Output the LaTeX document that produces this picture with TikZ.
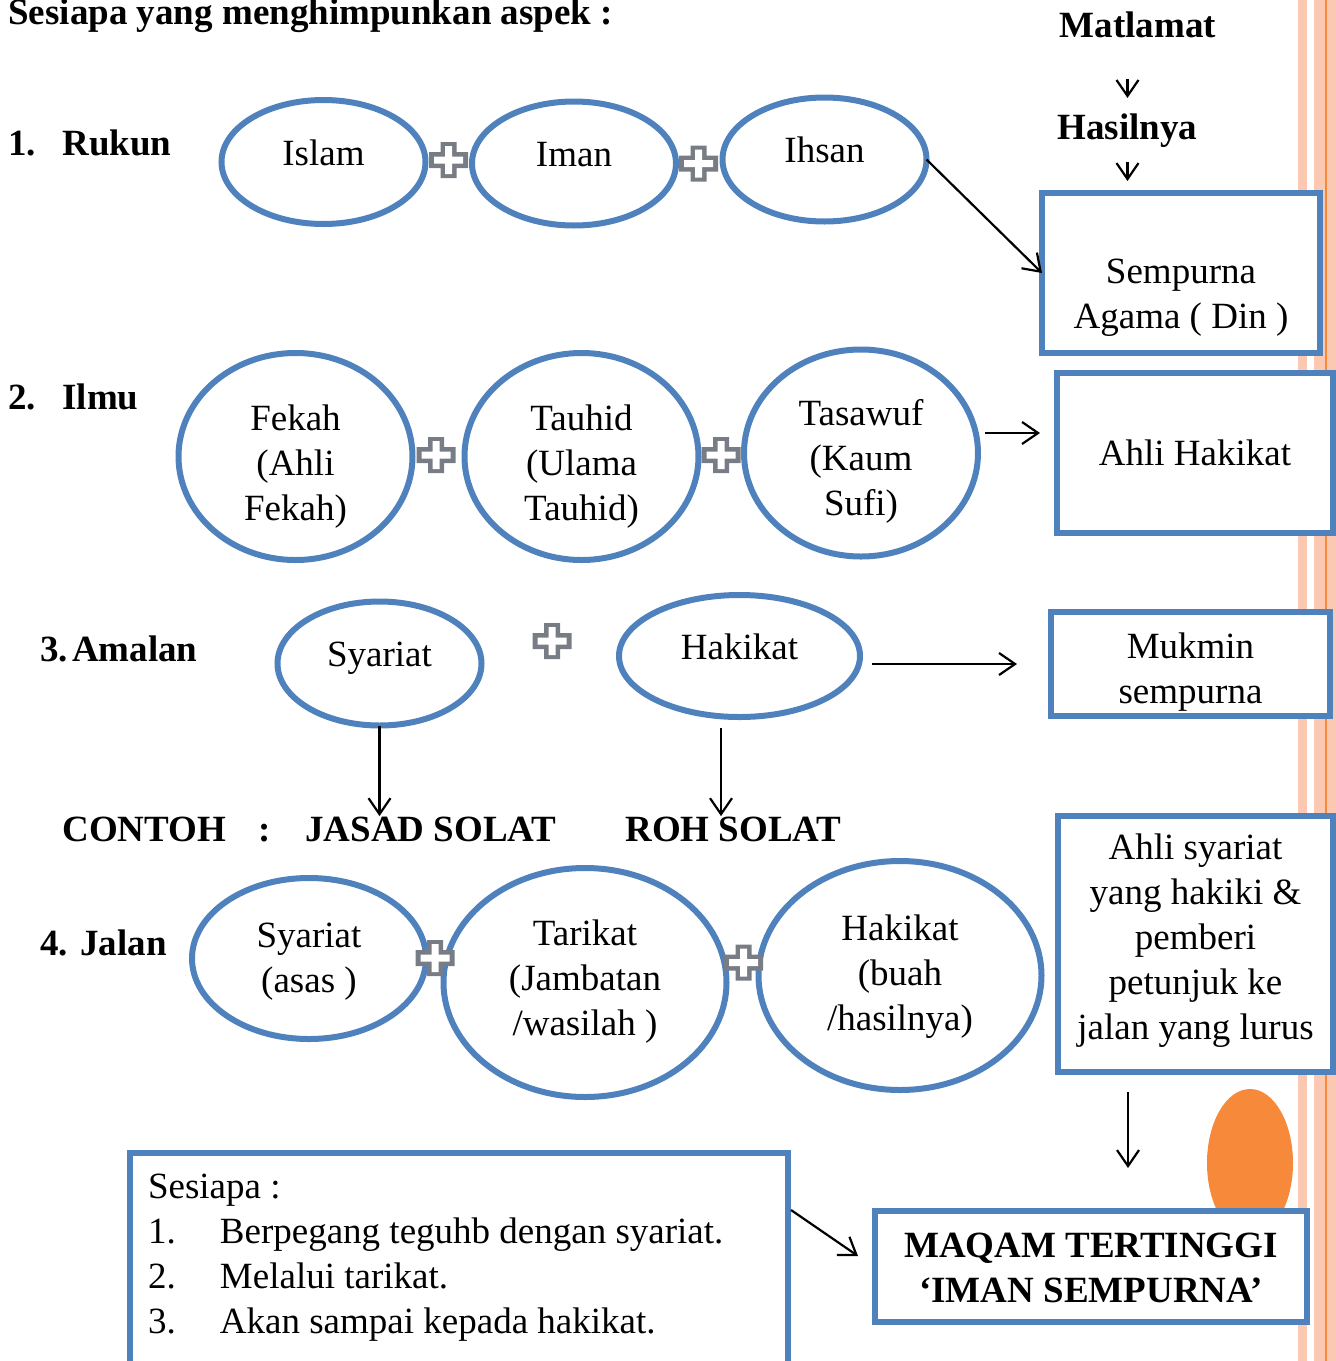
\documentclass[tikz,border=0pt]{standalone}
\usepackage{fontspec}
\setmainfont{Liberation Serif}
\usepackage{tikz}
\usetikzlibrary{calc,arrows.meta,shapes.geometric}
\definecolor{blu}{HTML}{4F81BD}
\definecolor{grey}{HTML}{787C84}
\definecolor{salmon}{HTML}{FBC9B2}
\definecolor{orng}{HTML}{F68A3A}
\newcommand{\sz}{\fontsize{18.5pt}{22.5pt}\selectfont}
\newcommand{\lines}[2][0pt]{\raisebox{#1}[0pt][0pt]{\begin{tabular}[t]{@{}c@{}}#2\end{tabular}}}
\tikzset{
  bub/.style={ellipse, draw=blu, line width=3pt, inner sep=0pt, outer sep=0pt},
  bubS/.style={bub, minimum width=102pt, minimum height=62pt},
  bubM/.style={bub, minimum width=117pt, minimum height=103.5pt},
  bubL/.style={bub, minimum width=141.5pt, minimum height=114.5pt},
  box/.style={rectangle, draw=blu, line width=3pt, fill=white, inner sep=0pt, outer sep=0pt},
  lbl/.style={font=\sz\bfseries, inner sep=0pt, anchor=base west},
  arr/.style={-{Straight Barb[length=8pt,width=11pt]}, line width=1.1pt},
  plusmark/.pic={
    \fill[grey] (-19.5,-8) rectangle (19.5,8) (-8,-18) rectangle (8,18);
    \fill[white] (-14.5,-3.5) rectangle (14.5,3.5) (-3.5,-14) rectangle (3.5,14);
  },
}
\begin{document}
\begin{tikzpicture}[x=0.5pt, y=-0.5pt, font=\sz]
  \useasboundingbox (0,0) rectangle (1336,1361);
  % side stripes
  \fill[salmon] (1298,0) rectangle (1307,1361);
  \fill[salmon] (1314,0) rectangle (1336,1361);
  \fill[orng] (1325,0) rectangle (1327,1361);
  \fill[orng] (1250,1163) ellipse (43 and 74);

  % headings
  \node[lbl] (title) at (8,24) {Sesiapa yang menghimpunkan aspek :};
  \node[lbl, anchor=base] (matlamat) at (1138,37) {Matlamat};
  \node[lbl, anchor=base] (hasilnya) at (1127.5,139) {Hasilnya};
  \node[lbl] (rukun) at (8,155) {\makebox[27pt][l]{1.}Rukun};
  \node[lbl] (ilmu) at (8,409) {\makebox[27pt][l]{2.}Ilmu};
  \node[lbl] (amalan) at (40,661) {3.\hspace{2pt}Amalan};
  \node[lbl] (contoh) at (62,841) {CONTOH};
  \node[lbl] (colon) at (258,841) {:};
  \node[lbl] (jasad) at (305,841) {JASAD SOLAT};
  \node[lbl] (roh) at (625,841) {ROH SOLAT};
  \node[lbl] (jalan) at (40,955) {4. Jalan};

  % 1. rukun
  \node[bubS] (islam) at (323.5,162) {\lines[-1.5pt]{Islam}};
  \node[bubS] (iman) at (574,163.5) {\lines[-1.5pt]{Iman}};
  \node[bubS] (ihsan) at (824.5,159.5) {\lines[-1.5pt]{Ihsan}};
  % 2. ilmu
  \node[bubM] (fekah) at (295.5,456.5) {\lines[13.25pt]{Fekah\\(Ahli\\Fekah)}};
  \node[bubM] (tauhid) at (581.5,456.5) {\lines[13.25pt]{Tauhid\\(Ulama\\Tauhid)}};
  \node[bubM] (tasawuf) at (861,453) {\lines[14pt]{Tasawuf\\(Kaum\\Sufi)}};
  % 3. amalan
  \node[bubS] (syariat) at (379.5,663.5) {\lines[-1.5pt]{Syariat}};
  \node[bub, minimum width=120.5pt, minimum height=61pt] (hakikat) at (739.5,656) {\lines[-1.5pt]{Hakikat}};
  % 4. jalan
  \node[bub, minimum width=117pt, minimum height=80.5pt] (asas) at (309,958.5) {\lines[5.75pt]{Syariat\\(asas )}};
  \node[bubL] (tarikat) at (585,982.5) {\lines[18.75pt]{Tarikat\\(Jambatan\\/wasilah )}};
  \node[bubL] (buah) at (900,975.5) {\lines[17.75pt]{Hakikat\\(buah\\/hasilnya)}};

  % result boxes
  \node[box, minimum width=139pt, minimum height=80pt] (sempurna) at (1181,273) {\lines[-5pt]{Sempurna\\Agama ( Din )}};
  \node[box, minimum width=138pt, minimum height=80pt] (ahlihakikat) at (1195,453) {\lines[-6pt]{Ahli Hakikat}};
  \node[box, minimum width=139.5pt, minimum height=52pt] (mukmin) at (1190.5,664) {\lines[3pt]{Mukmin\\sempurna}};
  \node[box, minimum width=137.5pt, minimum height=128pt] (ahlisyariat) at (1195.5,944) {\lines[42.5pt]{Ahli syariat\\yang hakiki \&\\pemberi\\petunjuk ke\\jalan yang lurus}};
  \node[box, minimum width=216pt, minimum height=55.5pt, font=\sz\bfseries] (maqam) at (1091,1266.5) {\lines[4.75pt]{MAQAM TERTINGGI\\‘IMAN SEMPURNA’}};
  \node[box, anchor=north west, minimum width=329pt, minimum height=110pt] (sesiapa) at (130,1153)
    {\raisebox{32.5pt}[0pt][0pt]{\parbox[t]{311pt}{Sesiapa :\\
      \makebox[36pt][l]{1.}Berpegang teguhb dengan syariat.\\
      \makebox[36pt][l]{2.}Melalui tarikat.\\
      \makebox[36pt][l]{3.}Akan sampai kepada hakikat.}}};

  % plus signs
  \pic at (448.5,160) {plusmark};
  \pic at (698.5,163.5) {plusmark};
  \pic at (436,455) {plusmark};
  \pic at (721,455) {plusmark};
  \pic at (552,641) {plusmark};
  \pic at (435,958) {plusmark};
  \pic at (743.5,962.5) {plusmark};

  % arrows
  \draw[arr] ($(matlamat.south -| hasilnya.north)+(0,41)$) -- ($(hasilnya.north)+(0,-15)$);
  \draw[arr] ($(hasilnya.south)+(0,15)$) -- ($(hasilnya.south |- sempurna.north)+(0,-12)$);
  \draw[arr] (ihsan.east) -- (sempurna.west);
  \draw[arr] ($(tasawuf.east)+(7,-20)$) -- ($(ahlihakikat.west)+(-17,-20)$);
  \draw[arr] ($(hakikat.east |- mukmin.west)+(12,0)$) -- ($(mukmin.west)+(-34,0)$);
  \draw[arr] (syariat.south) -- (syariat.south |- jasad.north);
  \coordinate (hk) at ($(hakikat.south)+(-18.5,11)$);
  \draw[arr] (hk) -- (hk |- roh.north);
  \coordinate (asy) at ($(ahlisyariat.south)+(-67.5,20)$);
  \draw[arr] (asy) -- ($(asy |- maqam.north)+(0,-43)$);
  \draw[arr] ($(sesiapa.north east)+(3,57)$) -- ($(maqam.west)+(-17,-10.5)$);
\end{tikzpicture}
\end{document}
